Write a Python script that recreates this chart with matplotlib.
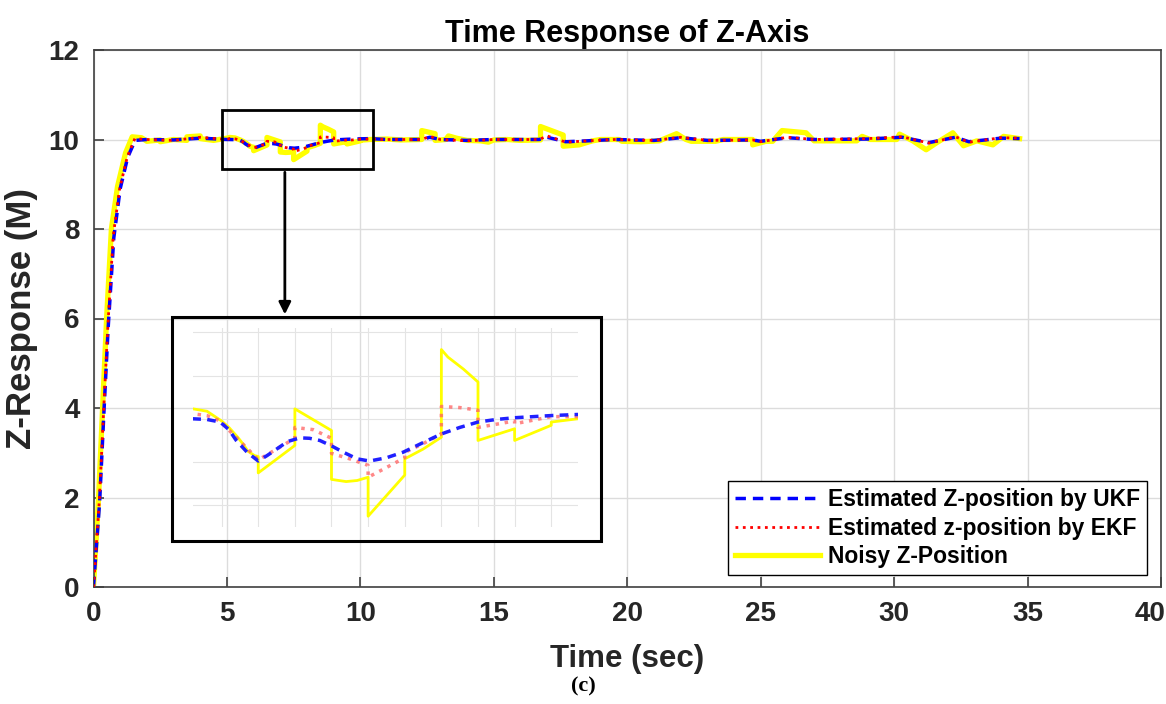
import numpy as np
import matplotlib.pyplot as plt
from matplotlib.patches import Rectangle
from matplotlib.transforms import ScaledTranslation

plt.rcParams['font.family'] = ['Liberation Sans', 'DejaVu Sans']

# ── Data (time in s, response in m) ───────────────────────────────────────
t_noisy = [0, 0.19, 0.34, 0.49, 0.67, 0.9, 1.2, 1.45, 1.8, 2.0, 2.5, 2.5, 3.0, 3.5, 3.5,
           4.0, 4.0, 4.5, 5.0, 5.11, 5.3, 5.5, 5.6, 5.72, 5.8, 5.86, 5.95, 6.0, 6.0, 6.5, 6.5,
           7.0, 7.0, 7.2, 7.35, 7.5, 7.5, 8.0, 8.0, 8.25, 8.5, 8.5, 8.59, 8.8, 9.0, 9.0, 9.5,
           9.5, 10.0, 10.0, 10.36, 11.0, 11.5, 12.3, 12.3, 12.8, 12.8, 13.2, 13.3, 13.6, 14.0,
           14.5, 14.8, 15.0, 15.5, 16.0, 16.75, 16.75, 17.6, 17.6, 18.2, 18.7, 19.0, 19.7,
           19.8, 20.5, 21.2, 21.85, 22.2, 22.4, 23.3, 23.6, 24.7, 24.7, 25.2, 25.45, 25.8,
           26.7, 27.0, 27.3, 28.6, 28.8, 29.1, 30.1, 30.2, 30.7, 31.2, 31.6, 32.2, 32.6,
           33.1, 33.7, 34.1, 34.7]
z_noisy = [0, 2.0, 4.0, 6.0, 8.0, 8.95, 9.7, 10.06, 10.04, 9.96, 9.99, 9.95, 10.0, 9.98, 10.06,
           10.08, 10.02, 9.98, 10.03, 10.046, 10.035, 9.99, 9.96, 9.915, 9.88, 9.85, 9.83, 9.826, 9.75, 9.877, 10.046,
           9.946, 9.72, 9.71, 9.715, 9.73, 9.55, 9.74, 9.815, 9.86, 9.915, 10.32, 10.285, 10.23, 10.17, 9.90, 9.954,
           9.90, 9.97, 9.985, 10.0, 10.01, 9.99, 10.0, 10.2, 10.13, 9.98, 10.0, 10.08, 10.03, 9.98,
           9.97, 9.94, 9.99, 10.0, 9.98, 9.99, 10.29, 10.1, 9.85, 9.88, 9.97, 10.0, 10.0,
           9.96, 9.95, 9.97, 10.13, 10.0, 9.96, 9.96, 10.0, 10.0, 9.88, 9.96, 9.96, 10.2,
           10.15, 9.97, 9.97, 9.97, 10.07, 10.0, 10.0, 10.12, 9.97, 9.77, 9.93, 10.15, 9.86,
           9.97, 9.88, 10.07, 10.02]

t_ekf = [0, 0.22, 0.38, 0.54, 0.74, 0.98, 1.27, 1.55, 2.0, 3.0, 4.0, 5.0, 5.11, 5.3, 5.48,
         5.65, 5.86, 6.0, 6.5, 6.5, 6.75, 7.0, 7.0, 7.25, 7.5, 7.5, 8.0, 8.0, 8.25, 8.5,
         8.5, 8.75, 9.0, 9.0, 9.5, 9.5, 10.0, 10.36, 11.0, 12.3, 12.6, 13.0, 14.0, 15.0,
         16.7, 17.0, 17.7, 18.5, 19.5, 21.0, 22.0, 23.0, 24.7, 25.0, 26.0, 27.0, 29.0,
         30.3, 31.3, 32.3, 32.8, 34.0, 34.7]
z_ekf = [0, 1.95, 3.95, 5.85, 7.85, 8.9, 9.62, 10.02, 10.0, 9.98, 10.05, 10.0, 10.023, 10.015, 9.99,
         9.93, 9.86, 9.81, 9.91, 9.96, 9.95, 9.91, 9.84, 9.815, 9.785, 9.73, 9.82, 9.845, 9.885, 9.93,
         10.057, 10.052, 10.04, 9.96, 9.99, 9.977, 10.01, 10.01, 10.0, 10.0, 10.07, 10.0, 9.97, 10.0,
         10.0, 10.08, 9.94, 9.97, 10.0, 9.98, 10.05, 9.98, 9.99, 9.95, 10.05, 10.0, 10.02,
         10.06, 9.92, 10.06, 9.94, 10.04, 10.03]

t_ukf = [0, 0.23, 0.39, 0.55, 0.76, 1.0, 1.28, 1.56, 2.0, 3.0, 4.0, 5.0, 5.11, 5.3, 5.48,
         5.6, 5.7, 5.85, 6.0, 6.12, 6.25, 6.4, 6.57, 6.7, 6.84, 7.0, 7.16, 7.35, 7.52,
         7.75, 7.98, 8.25, 8.5, 8.75, 9.0, 9.25, 9.5, 10.0, 10.36, 11.0, 12.3, 12.6, 13.0,
         14.0, 15.0, 16.7, 17.0, 17.7, 18.5, 19.5, 21.0, 22.0, 23.0, 24.7, 25.0, 26.0,
         27.0, 29.0, 30.3, 31.3, 32.3, 32.8, 34.0, 34.7]
z_ukf = [0, 1.9, 3.9, 5.8, 7.8, 8.9, 9.6, 9.98, 10.0, 9.99, 10.03, 10.0, 10.0, 9.997, 9.985,
         9.95, 9.9, 9.845, 9.805, 9.83, 9.86, 9.895, 9.912, 9.91, 9.90, 9.875, 9.846, 9.815, 9.805,
         9.82, 9.846, 9.89, 9.93, 9.96, 9.985, 9.997, 10.005, 10.015, 10.02, 10.0, 10.0, 10.05, 10.0,
         9.98, 10.0, 10.0, 10.05, 9.95, 9.97, 10.0, 9.98, 10.04, 9.98, 9.99, 9.96, 10.04,
         10.0, 10.01, 10.05, 9.93, 10.05, 9.95, 10.03, 10.02]

labels = ['Estimated Z-position by UKF', 'Estimated z-position by EKF', 'Noisy Z-Position']

# ── Plot ───────────────────────────────────────────────────────────────────
W, H = 1166, 704
fig = plt.figure(figsize=(W / 100, H / 100), dpi=100)
ax = fig.add_axes([93.5 / W, 1 - 587 / H, (1161 - 93.5) / W, 537 / H])

l_noisy, = ax.plot(t_noisy, z_noisy, color='#ffff00', lw=3.8, zorder=2)
l_ukf, = ax.plot(t_ukf, z_ukf, color='#0000ff', lw=2.5, ls=(0, (3, 2)), zorder=3)
l_ekf, = ax.plot(t_ekf, z_ekf, color='#ff0000', lw=2.0, ls=':', zorder=4)

ax.set_xlim(0, 40)
ax.set_ylim(0, 12)
ax.set_xticks(range(0, 41, 5))
ax.set_yticks(range(0, 13, 2))
ax.grid(True, color='#dcdcdc', lw=1)
ax.set_axisbelow(True)
for s in ax.spines.values():
    s.set_color('#404040')
    s.set_linewidth(1.2)
ax.tick_params(direction='in', length=7, width=1.2, color='#404040',
               labelsize=20, pad=10)
for lab in ax.get_xticklabels() + ax.get_yticklabels():
    lab.set_fontweight('bold')
    lab.set_color('#262626')
# the last x label sits on the figure edge; nudge it inside
last = ax.get_xticklabels()[-1]
last.set_transform(last.get_transform() + ScaledTranslation(-8 / 72, 0, fig.dpi_scale_trans))

ax.set_xlabel('Time (sec)', fontsize=22.5, fontweight='bold', color='#262626', labelpad=12)
ax.set_ylabel('Z-Response (M)', fontsize=25, fontweight='bold', color='#262626', labelpad=8)
ax.set_title('Time Response of Z-Axis', fontsize=22, fontweight='bold', pad=6)

leg = ax.legend([l_ukf, l_ekf, l_noisy], labels, loc='lower right',
                bbox_to_anchor=(0.987, 0.022), borderaxespad=0, fancybox=False,
                edgecolor='black', framealpha=1, prop={'weight': 'bold', 'size': 16.5},
                handlelength=3.7, handletextpad=0.35, labelspacing=0.25, borderpad=0.3)
leg.get_frame().set_linewidth(1.0)

# zoom box + arrow
ax.add_patch(Rectangle((4.81, 9.33), 5.66, 1.33, fill=False, ec='black', lw=2, zorder=5))
ax.annotate('', xy=(7.17, 6.03), xytext=(7.17, 9.33),
            arrowprops=dict(arrowstyle='-|>', color='black', lw=2, mutation_scale=18),
            zorder=5)
ax.add_patch(Rectangle((2.94, 1.03), 16.07, 5.0, fill=False, ec='black', lw=2.2, zorder=5))

# inset
ins = ax.inset_axes([3.73, 1.34, 14.41, 4.45], transform=ax.transData)
ins.set_facecolor('none')
ins.plot(t_noisy, z_noisy, color='#ffff00', lw=2.0)
ins.plot(t_ekf, z_ekf, color='#ff6060', lw=2.5, ls=':', alpha=0.75)
ins.plot(t_ukf, z_ukf, color='#2020ff', lw=2.5, ls=(0, (2.5, 1.8)))
ins.set_xlim(5.11, 10.36)
ins.set_ylim(9.5, 10.42)
ins.set_xticks(np.arange(5.5, 10.01, 0.5))
ins.set_yticks([9.6, 9.8, 10.0, 10.2, 10.4])
ins.grid(True, color='#e4e4e4', lw=0.8)
ins.tick_params(length=0, labelbottom=False, labelleft=False)
for s in ins.spines.values():
    s.set_visible(False)

fig.text(0.5, 1 - 686 / H, '(c)', ha='center', va='center', fontsize=16,
         fontweight='bold', family='Liberation Serif')

fig.savefig('out.png', dpi=100)
